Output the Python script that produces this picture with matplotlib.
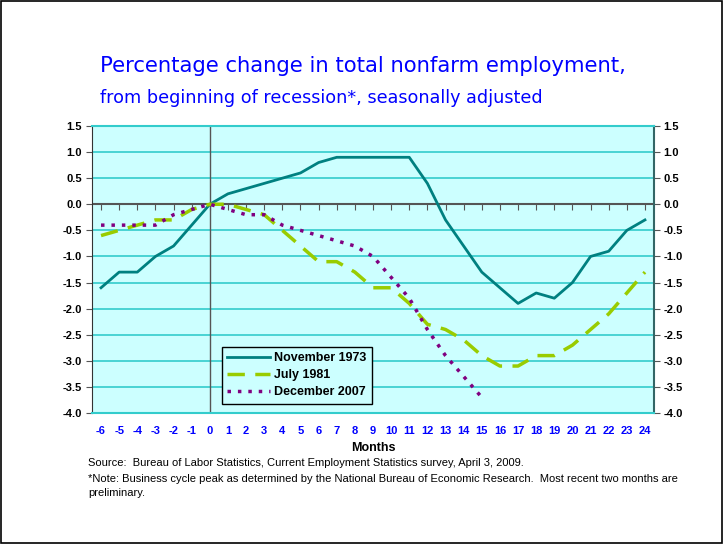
import matplotlib
matplotlib.use("Agg")
import matplotlib.pyplot as plt
from matplotlib.patches import Rectangle

# months from beginning of recession
months = list(range(-6, 25))
months_2007 = list(range(-6, 16))

nov_1973 = [-1.6, -1.3, -1.3, -1.0, -0.8, -0.4, 0.0, 0.2, 0.3, 0.4, 0.5, 0.6, 0.8, 0.9, 0.9,
            0.9, 0.9, 0.9, 0.4, -0.3, -0.8, -1.3, -1.6, -1.9, -1.7, -1.8, -1.5, -1.0, -0.9, -0.5, -0.3]
jul_1981 = [-0.6, -0.5, -0.4, -0.3, -0.3, -0.1, 0.0, 0.0, -0.1, -0.2, -0.5, -0.8, -1.1, -1.1, -1.3,
            -1.6, -1.6, -1.9, -2.3, -2.4, -2.6, -2.9, -3.1, -3.1, -2.9, -2.9, -2.7, -2.4, -2.1, -1.7, -1.3]
dec_2007 = [-0.4, -0.4, -0.4, -0.4, -0.2, -0.1, 0.0, -0.1, -0.2, -0.2, -0.4, -0.5, -0.6, -0.7, -0.8,
            -1.0, -1.4, -1.8, -2.4, -2.9, -3.3, -3.7]

y_ticks = [1.5, 1.0, 0.5, 0.0, -0.5, -1.0, -1.5, -2.0, -2.5, -3.0, -3.5, -4.0]

fig = plt.figure(figsize=(7.23, 5.44), dpi=100)
fig.patch.set_facecolor("white")
fig.patches.append(Rectangle((0.001, 0.001), 0.997, 0.997, transform=fig.transFigure,
                             fill=False, edgecolor="black", linewidth=1.2))

ax = fig.add_axes([0.1272, 0.2408, 0.7774, 0.5276])
ax.set_facecolor("#CCFFFF")
ax.set_xlim(-6.5, 24.5)
ax.set_ylim(-4.0, 1.5)

for y in y_ticks:
    if y != 0:
        ax.axhline(y, color="#33CCCC", linewidth=1.2, zorder=1)
ax.axhline(0, color="#555555", linewidth=1.5, zorder=2)
ax.axvline(0, color="#555555", linewidth=1.0, zorder=2)

ax.plot(months, nov_1973, color="#008080", linewidth=2, label="November 1973", zorder=4)
ax.plot(months, jul_1981, color="#99CC00", linewidth=2.5, linestyle=(0, (5, 3)),
        label="July 1981", zorder=4)
ax.plot(months_2007, dec_2007, color="#800080", linewidth=2.5, linestyle=(0, (1, 2)),
        label="December 2007", zorder=4)

tick_font = {"family": "Liberation Sans", "weight": "bold", "size": 8}

ax.set_yticks(y_ticks)
ax.set_yticklabels([f"{v:.1f}" for v in y_ticks], fontdict=tick_font)
ax.tick_params(axis="y", direction="out", length=4, color="#555555", right=True,
               labelright=True, pad=3)

ax.set_xticks(months)
ax.set_xticklabels([str(m) for m in months], fontdict=tick_font, color="#0000FF")
ax.tick_params(axis="x", length=0, pad=9)

# tick marks on the zero line
sec = ax.secondary_xaxis(4.0 / 5.5)
sec.set_xticks(months)
sec.tick_params(axis="x", direction="out", length=4, color="#555555", labelbottom=False,
                labeltop=False, top=False, bottom=True)
sec.spines["bottom"].set_visible(False)
sec.spines["top"].set_visible(False)

for side in ["top", "bottom"]:
    ax.spines[side].set_color("#33CCCC")
    ax.spines[side].set_linewidth(1.5)
ax.spines["left"].set_color("#333333")
ax.spines["right"].set_color("#336666")
ax.spines["right"].set_linewidth(1.5)

ax.set_xlabel("Months", fontdict={"family": "Liberation Sans", "weight": "bold", "size": 9},
              labelpad=5)

leg = ax.legend(loc="lower left", bbox_to_anchor=(0.231, 0.031), frameon=True, fancybox=False,
                prop={"family": "Liberation Sans", "weight": "bold", "size": 9},
                handlelength=3.4, handletextpad=0.3, borderpad=0.45, labelspacing=0.4,
                borderaxespad=0)
leg.get_frame().set_edgecolor("black")
leg.get_frame().set_facecolor("#CCFFFF")
leg.get_frame().set_linewidth(1.0)
leg.get_frame().set_alpha(1)

fig.text(0.138, 0.868, "Percentage change in total nonfarm employment,", color="#0000FF",
         fontsize=15.2, family="DejaVu Sans")
fig.text(0.138, 0.81, "from beginning of recession*, seasonally adjusted", color="#0000FF",
         fontsize=12.7, family="DejaVu Sans")

note_font = "Liberation Sans"
fig.text(0.122, 0.143, "Source:  Bureau of Labor Statistics, Current Employment Statistics survey, April 3, 2009.",
         fontsize=8, family=note_font)
fig.text(0.122, 0.114, "*Note: Business cycle peak as determined by the National Bureau of Economic Research.  Most recent two months are",
         fontsize=8, family=note_font)
fig.text(0.122, 0.089, "preliminary.", fontsize=8, family=note_font)

fig.savefig("out.png", dpi=100)
